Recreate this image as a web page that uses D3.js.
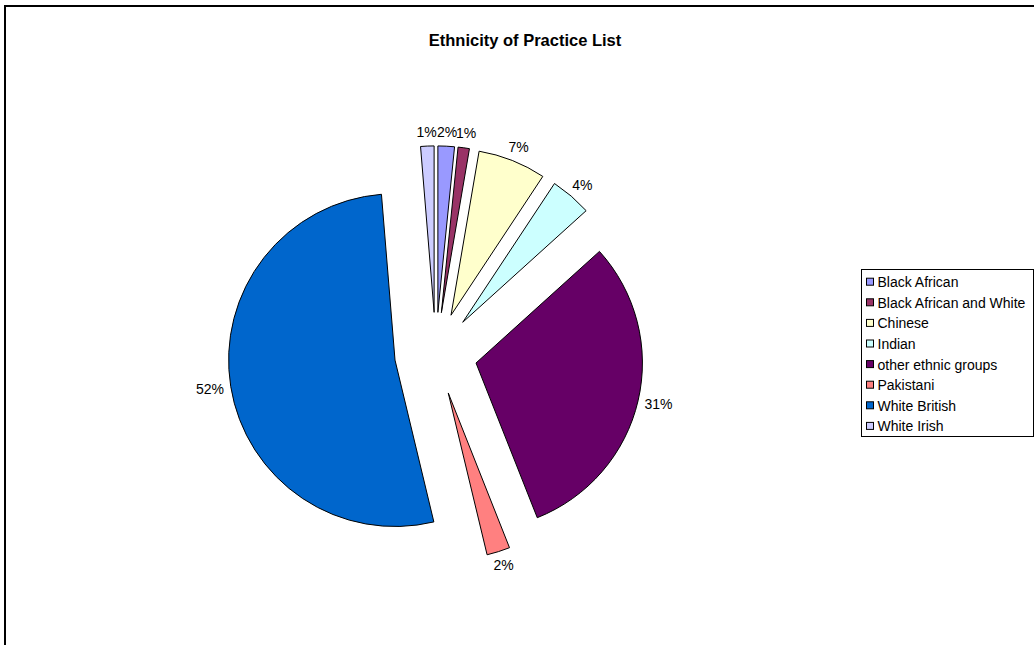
<!DOCTYPE html>
<html>
<head>
<meta charset="utf-8">
<script src="https://cdn.jsdelivr.net/npm/d3@7"></script>
<style>
  body { margin: 0; background: #fff; }
  text { font-family: Arial, "Liberation Sans", sans-serif; fill: #000; }
</style>
</head>
<body>
<svg id="chart" width="1034" height="645"></svg>
<script>
// Data (share of practice list, %)
const categories = ["Black African", "Black African and White", "Chinese", "Indian",
    "other ethnic groups", "Pakistani", "White British", "White Irish"];
const values = [1.6, 1.1, 6.6, 4.0, 30.7, 2.25, 52.45, 1.3];
const colors = ["#9999FF", "#993366", "#FFFFCC", "#CCFFFF",
    "#660066", "#FF8080", "#0066CC", "#CCCCFF"];

const svg = d3.select("#chart");

// outer chart frame (runs off the right and bottom of the window)
svg.append("rect")
    .attr("x", 5).attr("y", 6)
    .attr("width", 1100).attr("height", 700)
    .attr("fill", "none").attr("stroke", "#000").attr("stroke-width", 2);

svg.append("text")
    .attr("x", 525).attr("y", 46)
    .attr("text-anchor", "middle")
    .style("font-size", "16.5px").style("font-weight", "bold")
    .text("Ethnicity of Practice List");

// Pie
const cx = 435.8, cy = 353.6;
const radius = 166.4;
const explode = 41.3;   // every slice pulled out the same distance

const total = d3.sum(values);
const fmt = d3.format(".0%");

const pie = d3.pie().sort(null).value((d) => d.value);
const arc = d3.arc().innerRadius(0).outerRadius(radius);

const slices = pie(categories.map((c, i) => ({ name: c, value: values[i], color: colors[i] })));

const g = svg.append("g").attr("transform", `translate(${cx},${cy})`);

slices.forEach(function (s) {
    const mid = (s.startAngle + s.endAngle) / 2;
    const ux = Math.sin(mid), uy = -Math.cos(mid);
    const ox = ux * explode, oy = uy * explode;

    g.append("path")
        .attr("d", arc(s))
        .attr("transform", `translate(${ox},${oy})`)
        .attr("fill", s.data.color)
        .attr("stroke", "#000")
        .attr("stroke-width", 1)
        .attr("stroke-linejoin", "round");

    // label sits just outside the arc
    const t = g.append("text")
        .style("font-size", "14px")
        .attr("text-anchor", "middle")
        .attr("dominant-baseline", "central")
        .text(fmt(s.data.value / total));
    const w = t.node().getComputedTextLength();
    const h = 15;
    const pad = 7;
    const lx = ox + ux * (radius + pad) + ux * w / 2;
    const ly = oy + uy * (radius + pad) + uy * h / 2;
    t.attr("x", lx).attr("y", ly);
});

// Legend
const legend = svg.append("g").attr("transform", "translate(861,269)");
legend.append("rect")
    .attr("x", 0.5).attr("y", 0.5)
    .attr("width", 172).attr("height", 167)
    .attr("fill", "#fff").attr("stroke", "#000").attr("stroke-width", 1);

const rows = legend.selectAll(".row")
    .data(slices)
    .enter()
    .append("g")
    .attr("class", "row")
    .attr("transform", (d, i) => `translate(0,${12.7 + i * 20.6})`);

rows.append("rect")
    .attr("x", 5.5).attr("y", -3.5)
    .attr("width", 7).attr("height", 7)
    .attr("fill", (d) => d.data.color)
    .attr("stroke", "#000").attr("stroke-width", 1);

rows.append("text")
    .attr("x", 16.5).attr("y", 0.5)
    .attr("dominant-baseline", "central")
    .style("font-size", "14px")
    .text((d) => d.data.name);
</script>
</body>
</html>
